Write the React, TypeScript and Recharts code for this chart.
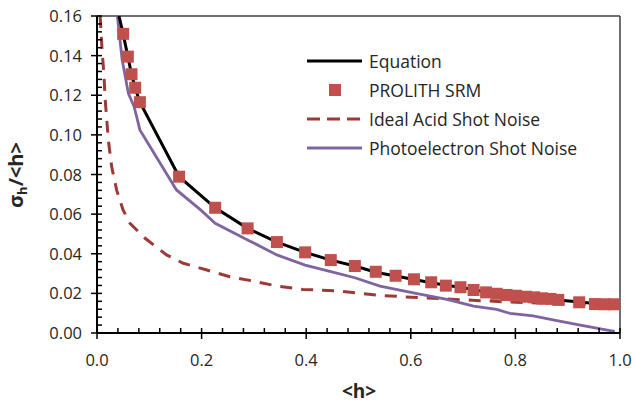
import React from 'react';
import {
  ComposedChart,
  Line,
  Scatter,
  XAxis,
  YAxis,
  ReferenceLine,
} from 'recharts';

// PROLITH SRM simulation points
const srmH = [
  0.05, 0.059, 0.066, 0.073, 0.082, 0.157, 0.226, 0.288, 0.344, 0.398, 0.447,
  0.493, 0.533, 0.571, 0.606, 0.639, 0.667, 0.695, 0.72, 0.744, 0.764, 0.783,
  0.801, 0.82, 0.836, 0.851, 0.867, 0.882, 0.922, 0.952, 0.971, 0.989,
];
const srmSigma = [
  0.151, 0.1395, 0.1306, 0.1238, 0.1165, 0.0789, 0.0632, 0.0528, 0.0459, 0.0407,
  0.0368, 0.0338, 0.0309, 0.0289, 0.0271, 0.0256, 0.0239, 0.0231, 0.0217, 0.0205,
  0.0198, 0.0192, 0.0188, 0.0183, 0.018, 0.0175, 0.0172, 0.0167, 0.0155, 0.0146,
  0.0145, 0.0145,
];

// Equation curve
const eqH = [
  0.042, 0.05, 0.059, 0.066, 0.073, 0.082, 0.157, 0.226, 0.288, 0.344, 0.398,
  0.447, 0.493, 0.533, 0.571, 0.606, 0.639, 0.667, 0.695, 0.72, 0.744, 0.764,
  0.783, 0.801, 0.82, 0.836, 0.851, 0.867, 0.882, 0.922, 0.952, 0.971, 0.989,
];
const eqSigma = [
  0.16, 0.151, 0.1395, 0.1306, 0.1238, 0.1165, 0.0789, 0.0632, 0.0528, 0.0459,
  0.0407, 0.0368, 0.0338, 0.0307, 0.0288, 0.027, 0.0254, 0.0241, 0.0231, 0.0219,
  0.0207, 0.0199, 0.0193, 0.0188, 0.0183, 0.0179, 0.0175, 0.0171, 0.0167, 0.0156,
  0.0149, 0.0146, 0.0144,
];

// Ideal acid shot noise (dashed)
const acidH = [
  0.006, 0.0076, 0.0102, 0.0134, 0.0153, 0.0217, 0.028, 0.0377, 0.05, 0.063,
  0.092, 0.133, 0.165, 0.21, 0.254, 0.299, 0.344, 0.394, 0.461, 0.541, 0.618,
  0.705, 0.776, 0.904, 0.99,
];
const acidSigma = [
  0.16, 0.152, 0.141, 0.13, 0.119, 0.0974, 0.084, 0.072, 0.062, 0.0554, 0.0478,
  0.0394, 0.0352, 0.0318, 0.0284, 0.0262, 0.0237, 0.022, 0.0212, 0.019, 0.0178,
  0.0167, 0.0158, 0.0146, 0.0143,
];

// Photoelectron shot noise
const peH = [
  0.039, 0.048, 0.06, 0.071, 0.076, 0.082, 0.152, 0.197, 0.226, 0.288, 0.344,
  0.398, 0.447, 0.493, 0.541, 0.605, 0.669, 0.72, 0.764, 0.79, 0.834, 0.872,
  0.924, 0.981, 0.99,
];
const peSigma = [
  0.16, 0.138, 0.121, 0.1142, 0.109, 0.1025, 0.0722, 0.0624, 0.0554, 0.047,
  0.0394, 0.0343, 0.031, 0.0279, 0.0237, 0.0203, 0.017, 0.0136, 0.0119, 0.0099,
  0.0087, 0.0066, 0.004, 0.0012, 0.0008,
];

const xMajor = [0, 0.2, 0.4, 0.6, 0.8, 1.0];
const yMajor = [0, 0.02, 0.04, 0.06, 0.08, 0.1, 0.12, 0.14, 0.16];

const xTicks = Array.from({ length: 26 }, (_, i) => +(i * 0.04).toFixed(2));
const yTicks = Array.from({ length: 41 }, (_, i) => +(i * 0.004).toFixed(3));

const toPoints = (xs: number[], ys: number[]) => xs.map((x, i) => ({ x, y: ys[i] }));

const srmData = toPoints(srmH, srmSigma);
const eqData = toPoints(eqH, eqSigma);
const acidData = toPoints(acidH, acidSigma);
const peData = toPoints(peH, peSigma);

const isMajor = (v: number, list: number[]) => list.some((m) => Math.abs(m - v) < 1e-6);

const XTick = (props: any) => {
  const { x, y, payload } = props;
  const major = isMajor(payload.value, xMajor);
  return (
    <g>
      <line x1={x} x2={x} y1={major ? y + 6 : y} y2={y - 5} stroke="#000" strokeWidth={1.5} />
      {major && (
        <text x={x} y={y + 33} textAnchor="middle" fontSize={16.5} fill="#262626">
          {payload.value.toFixed(1)}
        </text>
      )}
    </g>
  );
};

const YTick = (props: any) => {
  const { x, y, payload } = props;
  const major = isMajor(payload.value, yMajor);
  return (
    <g>
      <line x1={major ? x - 6 : x} x2={x + 5} y1={y} y2={y} stroke="#000" strokeWidth={1.5} />
      {major && (
        <text x={x - 15} y={y + 6} textAnchor="end" fontSize={16.5} fill="#262626">
          {payload.value.toFixed(2)}
        </text>
      )}
    </g>
  );
};

const Square = (props: any) => {
  const { cx, cy } = props;
  if (cx == null || cy == null) return null;
  return <rect x={cx - 6} y={cy - 6} width={12} height={12} fill="#C0504D" />;
};

const legendItems = [
  { label: 'Equation', kind: 'line', color: '#000000', dash: undefined, width: 3 },
  { label: 'PROLITH SRM', kind: 'square', color: '#C0504D', dash: undefined, width: 0 },
  { label: 'Ideal Acid Shot Noise', kind: 'line', color: '#9C3A36', dash: '13 7', width: 3 },
  { label: 'Photoelectron Shot Noise', kind: 'line', color: '#8064A2', dash: undefined, width: 3 },
];

export default function App() {
  return (
    <div
      style={{
        position: 'absolute',
        left: 0,
        top: 0,
        width: 635,
        height: 405,
        background: '#fff',
        fontFamily: '"Open Sans", sans-serif',
      }}
    >
      <ComposedChart width={635} height={405} margin={{ top: 16, right: 15, bottom: 0, left: 0 }}>
        <XAxis
          type="number"
          dataKey="x"
          domain={[0, 1]}
          ticks={xTicks}
          interval={0}
          tickSize={0}
          tickMargin={0}
          tickLine={false}
          tick={<XTick />}
          axisLine={{ stroke: '#000', strokeWidth: 2 }}
          height={72}
          allowDataOverflow
        />
        <YAxis
          type="number"
          dataKey="y"
          domain={[0, 0.16]}
          ticks={yTicks}
          interval={0}
          tickSize={0}
          tickMargin={0}
          tickLine={false}
          tick={<YTick />}
          axisLine={{ stroke: '#000', strokeWidth: 2 }}
          width={97}
          allowDataOverflow
        />
        <ReferenceLine y={0.16} stroke="#404040" strokeWidth={1.5} />
        <ReferenceLine x={1} stroke="#404040" strokeWidth={1.5} />
        <Line
          data={acidData}
          dataKey="y"
          type="linear"
          stroke="#9C3A36"
          strokeWidth={3}
          strokeDasharray="12 9"
          dot={false}
          isAnimationActive={false}
        />
        <Line
          data={peData}
          dataKey="y"
          type="linear"
          stroke="#8064A2"
          strokeWidth={2.8}
          dot={false}
          isAnimationActive={false}
        />
        <Line
          data={eqData}
          dataKey="y"
          type="linear"
          stroke="#000"
          strokeWidth={3}
          dot={false}
          isAnimationActive={false}
        />
        <Scatter data={srmData} dataKey="y" shape={<Square />} isAnimationActive={false} />
      </ComposedChart>

      {/* axis titles */}
      <svg
        width={635}
        height={405}
        style={{ position: 'absolute', left: 0, top: 0, pointerEvents: 'none' }}
      >
        <text x={359} y={398} textAnchor="middle" fontSize={19} fontWeight="bold" fill="#262626">
          {'<h>'}
        </text>
        <text
          transform="translate(23,175) rotate(-90)"
          textAnchor="middle"
          fontSize={20}
          fontWeight="bold"
          fill="#262626"
        >
          σ<tspan fontSize={13} dy={4}>h</tspan>
          <tspan dy={-4}>/&lt;h&gt;</tspan>
        </text>
      </svg>

      {/* legend */}
      <div style={{ position: 'absolute', left: 305, top: 46 }}>
        {legendItems.map((item) => (
          <div key={item.label} style={{ display: 'flex', alignItems: 'center', height: 29 }}>
            <svg width={62} height={20}>
              {item.kind === 'square' ? (
                <rect x={24} y={4} width={12} height={12} fill={item.color} />
              ) : (
                <line
                  x1={2}
                  x2={57}
                  y1={10}
                  y2={10}
                  stroke={item.color}
                  strokeWidth={item.width}
                  strokeDasharray={item.dash}
                />
              )}
            </svg>
            <span style={{ fontSize: 17.5, color: '#262626', marginLeft: 2, whiteSpace: 'nowrap' }}>
              {item.label}
            </span>
          </div>
        ))}
      </div>
    </div>
  );
}
